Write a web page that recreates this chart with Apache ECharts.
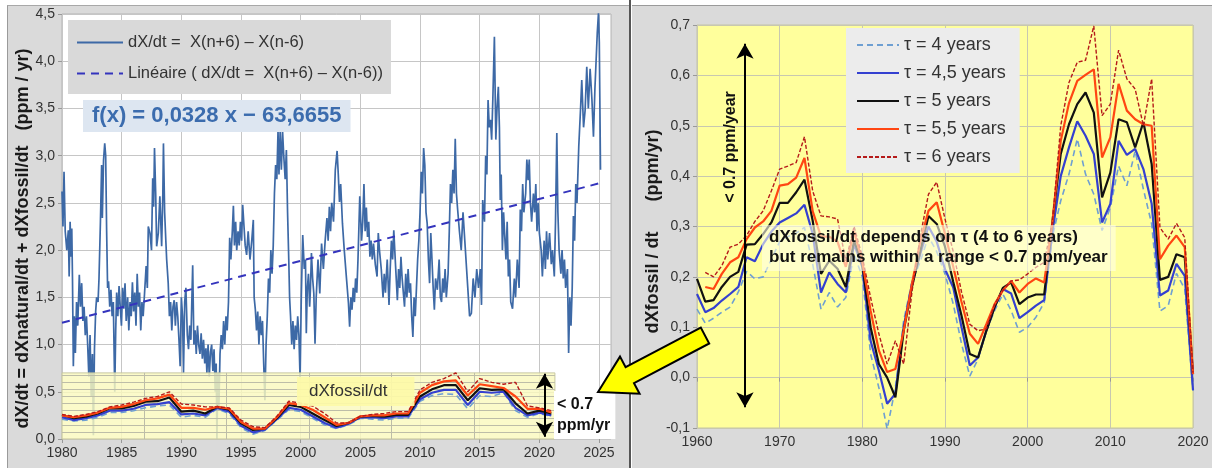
<!DOCTYPE html>
<html><head><meta charset="utf-8">
<script src="https://cdn.jsdelivr.net/npm/echarts@6/dist/echarts.min.js"></script>
<style>
html,body{margin:0;padding:0;background:#fff;}
#wrap{position:relative;width:1212px;height:468px;overflow:hidden;}
.panel{position:absolute;background:#dadada;}
#chart{position:absolute;left:0;top:0;width:1212px;height:468px;}
</style></head><body>
<div id="wrap">
<div class="panel" style="left:7px;top:5px;width:621px;height:463px;border-left:1px solid #9a9a9a;border-top:1px solid #a8a8a8;"></div>
<div style="position:absolute;left:629px;top:0;width:2px;height:468px;background:#555;"></div>
<div class="panel" style="left:632px;top:5px;width:580px;height:463px;border-top:1px solid #9a9a9a;"></div>
<div id="chart"></div>
</div>
<script>
// ---------- DATA ----------
const blueName = 'dX/dt =  X(n+6) – X(n-6)';
const trendName = 'Linéaire ( dX/dt =  X(n+6) – X(n-6))';
const fitText = 'f(x) = 0,0328 x − 63,6655';
const tauNames = ['τ = 4 years', 'τ = 4,5 years', 'τ = 5 years', 'τ = 5,5 years', 'τ = 6 years'];

// monthly-ish dX/dt (ppm/yr) : [year, value]
const dxdtPoints = [
[1980.0,2.62],[1980.08,2.25],[1980.17,2.83],[1980.27,2.2],[1980.4,2.0],[1980.53,2.21],[1980.6,1.72],[1980.68,2.3],[1980.76,1.93],[1980.82,2.23],[1980.88,1.68],[1980.95,0.77],[1981.03,1.3],[1981.12,0.91],[1981.22,1.45],[1981.32,1.2],[1981.45,1.74],[1981.55,1.4],[1981.65,1.65],[1981.75,1.25],[1981.85,1.4],[1981.95,1.1],
[1982.05,1.3],[1982.15,1.0],[1982.25,0.66],[1982.35,1.1],[1982.45,0.45],[1982.55,0.9],[1982.63,0.04],[1982.72,0.95],[1982.82,1.35],[1982.9,1.5],[1983.02,1.45],[1983.1,1.7],[1983.22,2.3],[1983.32,2.9],[1983.38,2.34],[1983.48,2.95],[1983.58,3.13],[1983.66,3.0],[1983.74,2.2],[1983.82,1.6],[1983.9,1.67],[1984.0,1.4],[1984.1,1.58],[1984.2,1.3],[1984.3,1.45],[1984.42,0.5],[1984.5,1.15],[1984.58,1.55],[1984.68,1.3],[1984.78,1.62],[1984.88,1.4],[1984.98,1.2],
[1985.08,1.6],[1985.18,1.38],[1985.28,1.65],[1985.38,1.25],[1985.5,1.5],[1985.6,1.15],[1985.7,1.45],[1985.8,1.3],[1985.9,1.66],[1986.0,1.35],[1986.1,1.55],[1986.2,1.2],[1986.3,1.75],[1986.4,1.4],[1986.5,1.55],[1986.6,1.15],[1986.7,1.45],[1986.8,1.3],[1986.92,1.55],
[1987.05,1.83],[1987.15,1.6],[1987.23,2.25],[1987.37,2.18],[1987.5,2.0],[1987.6,2.76],[1987.68,2.46],[1987.75,3.08],[1987.85,2.6],[1987.93,2.04],[1988.07,2.18],[1988.2,2.57],[1988.35,2.04],[1988.45,2.6],[1988.5,3.13],[1988.6,2.4],[1988.7,2.1],[1988.77,1.9],[1988.9,1.65],[1989.0,1.3],[1989.1,1.45],[1989.2,1.15],[1989.3,1.4],[1989.4,1.47],[1989.5,1.2],[1989.6,1.45],[1989.7,1.3],[1989.8,1.05],[1989.9,0.77],
[1990.0,1.5],[1990.1,1.3],[1990.18,0.7],[1990.28,1.45],[1990.38,1.6],[1990.5,1.1],[1990.6,0.95],[1990.7,1.2],[1990.8,1.05],[1990.95,1.84],[1991.05,1.0],[1991.15,1.15],[1991.25,0.9],[1991.35,1.2],[1991.45,1.0],[1991.56,0.9],[1991.66,1.12],[1991.76,0.85],[1991.86,1.05],[1991.96,0.8],
[1992.06,0.96],[1992.14,0.7],[1992.24,1.0],[1992.34,0.66],[1992.44,0.92],[1992.54,1.0],[1992.64,0.72],[1992.74,0.95],[1992.84,0.5],[1992.92,0.8],[1992.98,0.0],[1993.06,0.7],[1993.14,0.3],[1993.24,0.9],[1993.34,1.1],[1993.44,0.95],[1993.54,1.25],[1993.64,1.0],[1993.74,1.3],[1993.84,1.15],[1993.95,1.45],
[1994.05,2.13],[1994.15,1.9],[1994.27,2.2],[1994.36,2.47],[1994.45,2.05],[1994.55,2.3],[1994.64,2.0],[1994.75,2.2],[1994.85,2.05],[1994.95,2.3],[1995.05,2.1],[1995.14,2.48],[1995.25,2.25],[1995.35,2.05],[1995.47,1.95],[1995.6,2.2],[1995.75,1.9],[1995.9,2.1],[1996.03,2.32],[1996.1,1.5],[1996.2,1.37],[1996.3,1.15],[1996.4,1.35],[1996.5,1.0],[1996.6,1.3],[1996.7,1.1],[1996.8,1.25],[1996.9,0.8],[1997.0,0.41],[1997.1,1.0],[1997.2,1.3],[1997.3,1.7],[1997.4,1.55],[1997.5,2.0],[1997.6,1.75],[1997.7,2.05],[1997.8,2.6],[1997.9,2.9],[1998.0,2.75],[1998.1,3.26],[1998.18,2.8],[1998.28,3.26],[1998.38,2.85],[1998.48,3.26],[1998.58,3.0],[1998.7,2.75],[1998.8,3.06],[1998.9,2.4],[1999.0,1.9],[1999.07,1.5],[1999.15,1.3],[1999.25,1.0],[1999.35,1.25],[1999.45,0.95],[1999.55,1.2],[1999.65,1.05],[1999.75,1.3],[1999.85,1.1],[1999.95,0.63],
[2000.05,1.5],[2000.17,2.16],[2000.3,1.8],[2000.4,1.9],[2000.47,1.12],[2000.55,1.58],[2000.65,1.75],[2000.75,1.4],[2000.82,1.6],[2000.9,1.97],[2001.0,1.7],[2001.1,1.54],[2001.2,1.01],[2001.3,1.5],[2001.45,1.9],[2001.6,1.54],[2001.75,2.07],[2001.9,1.8],[2002.05,2.1],[2002.2,2.34],[2002.3,2.1],[2002.4,2.46],[2002.5,2.2],[2002.6,2.5],[2002.75,2.3],[2002.9,2.85],[2003.05,3.05],[2003.15,2.8],[2003.25,2.51],[2003.35,2.7],[2003.5,2.28],[2003.65,2.0],[2003.85,1.68],[2004.0,1.44],[2004.1,1.19],[2004.2,1.5],[2004.3,1.37],[2004.4,1.6],[2004.5,1.45],[2004.6,1.7],[2004.7,1.55],[2004.8,1.9],[2004.95,2.57],
[2005.1,2.1],[2005.2,2.3],[2005.3,2.7],[2005.4,2.2],[2005.5,2.45],[2005.6,2.14],[2005.7,2.3],[2005.8,1.93],[2005.9,2.1],[2006.0,1.9],[2006.1,2.07],[2006.25,1.85],[2006.4,1.72],[2006.5,2.18],[2006.6,2.0],[2006.75,1.8],[2006.9,1.5],[2007.0,1.75],[2007.1,1.55],[2007.25,1.9],[2007.4,1.42],[2007.5,1.8],[2007.6,2.1],[2007.7,1.9],[2007.8,2.21],[2007.95,1.83],[2008.1,1.47],[2008.2,1.8],[2008.3,1.6],[2008.4,1.93],[2008.5,1.7],[2008.6,1.55],[2008.7,1.4],[2008.8,1.75],[2008.9,1.5],[2009.0,1.8],[2009.1,1.55],[2009.2,1.65],[2009.3,1.3],[2009.4,1.08],[2009.5,1.5],[2009.6,1.3],[2009.7,1.6],[2009.8,1.9],[2009.9,2.1],
[2010.0,2.4],[2010.1,2.83],[2010.2,2.6],[2010.3,3.08],[2010.4,2.9],[2010.5,2.4],[2010.6,2.28],[2010.7,1.9],[2010.8,1.65],[2010.9,2.18],[2011.0,1.9],[2011.1,1.6],[2011.2,1.37],[2011.3,1.7],[2011.45,1.58],[2011.6,1.9],[2011.7,1.5],[2011.8,1.45],[2011.9,1.7],[2012.0,1.55],[2012.1,1.8],[2012.2,1.5],[2012.35,1.75],[2012.45,2.2],[2012.55,2.7],[2012.65,2.5],[2012.75,2.85],[2012.85,2.6],[2012.95,3.18],[2013.05,2.6],[2013.15,2.43],[2013.3,2.2],[2013.45,2.0],[2013.6,2.4],[2013.75,2.1],[2013.9,1.8],[2014.0,1.6],[2014.15,1.3],[2014.3,1.33],[2014.45,1.7],[2014.6,1.5],[2014.75,1.8],[2014.9,1.6],
[2015.05,1.8],[2015.15,1.42],[2015.25,2.53],[2015.4,2.3],[2015.5,3.0],[2015.6,2.8],[2015.7,3.59],[2015.8,3.3],[2015.9,3.38],[2016.0,3.17],[2016.1,3.6],[2016.23,4.26],[2016.35,3.17],[2016.45,3.5],[2016.56,3.73],[2016.65,3.3],[2016.72,2.53],[2016.8,2.8],[2016.9,2.0],[2017.0,2.4],[2017.1,2.14],[2017.2,1.9],[2017.3,2.3],[2017.4,1.72],[2017.5,1.9],[2017.6,1.45],[2017.75,1.38],[2017.9,1.7],[2018.0,1.5],[2018.15,1.9],[2018.3,1.6],[2018.4,2.43],[2018.5,2.2],[2018.6,2.7],[2018.7,2.4],[2018.85,2.6],[2018.95,2.96],[2019.05,2.74],[2019.15,2.96],[2019.25,2.5],[2019.35,2.3],[2019.5,2.6],[2019.6,2.4],[2019.7,2.7],[2019.8,2.2],[2019.9,2.5],
[2020.0,2.18],[2020.15,2.0],[2020.25,1.72],[2020.4,2.1],[2020.5,1.8],[2020.6,2.2],[2020.7,1.9],[2020.85,2.18],[2021.0,1.85],[2021.1,2.0],[2021.25,1.72],[2021.35,2.3],[2021.46,3.24],[2021.55,2.4],[2021.65,2.0],[2021.8,1.75],[2021.9,2.0],[2022.0,1.7],[2022.1,1.9],[2022.2,1.6],[2022.35,1.8],[2022.45,0.91],[2022.55,1.5],[2022.65,1.2],[2022.75,1.6],[2022.85,2.36],[2022.95,2.1],[2023.05,2.7],[2023.15,2.5],[2023.3,3.1],[2023.45,3.5],[2023.55,3.8],[2023.7,3.3],[2023.83,3.48],[2023.97,3.94],[2024.1,3.5],[2024.25,3.92],[2024.4,3.6],[2024.53,3.2],[2024.65,3.7],[2024.75,4.0],[2024.85,4.3],[2024.95,4.51],[2025.02,4.2],[2025.12,2.85]
];
// linear trend end points
const trendPoints = [[1980, 1.23], [2025.1, 2.71]];

// right chart: annual dXfossil/dt (ppm/yr) for each tau
const years = [1960,1961,1962,1963,1964,1965,1966,1967,1968,1969,1970,1971,1972,1973,1974,1975,1976,1977,1978,1979,1980,1981,1982,1983,1984,1985,1986,1987,1988,1989,1990,1991,1992,1993,1994,1995,1996,1997,1998,1999,2000,2001,2002,2003,2004,2005,2006,2007,2008,2009,2010,2011,2012,2013,2014,2015,2016,2017,2018,2019,2020];
const tau4  = [0.136,0.108,0.118,0.13,0.14,0.17,0.211,0.196,0.2,0.235,0.27,0.28,0.287,0.298,0.225,0.136,0.169,0.14,0.159,0.245,0.2,0.047,-0.02,-0.102,-0.02,0.113,0.19,0.23,0.28,0.25,0.206,0.146,0.067,0.003,0.037,0.093,0.133,0.166,0.133,0.09,0.1,0.12,0.149,0.28,0.351,0.404,0.474,0.404,0.364,0.292,0.338,0.42,0.381,0.45,0.374,0.305,0.132,0.143,0.207,0.176,-0.026];
const tau45 = [0.166,0.13,0.138,0.153,0.166,0.18,0.239,0.231,0.265,0.29,0.308,0.317,0.326,0.343,0.285,0.169,0.209,0.186,0.169,0.265,0.22,0.073,0.014,-0.052,-0.032,0.1,0.186,0.245,0.3,0.27,0.215,0.179,0.1,0.024,0.04,0.093,0.14,0.176,0.167,0.118,0.13,0.143,0.154,0.29,0.4,0.457,0.509,0.48,0.444,0.308,0.345,0.47,0.442,0.454,0.414,0.345,0.163,0.173,0.226,0.202,-0.025];
const tau5  = [0.196,0.151,0.154,0.18,0.2,0.21,0.264,0.265,0.285,0.308,0.347,0.347,0.368,0.393,0.311,0.206,0.232,0.216,0.18,0.272,0.225,0.1,0.027,0.0,-0.039,0.093,0.18,0.25,0.321,0.305,0.26,0.19,0.123,0.047,0.04,0.093,0.14,0.178,0.189,0.146,0.159,0.165,0.165,0.31,0.444,0.503,0.543,0.566,0.526,0.358,0.407,0.513,0.507,0.457,0.507,0.424,0.194,0.2,0.245,0.239,0.007];
const tau55 = [null,0.18,0.176,0.206,0.229,0.239,0.275,0.298,0.31,0.331,0.381,0.384,0.397,0.436,0.33,0.28,0.28,0.27,0.22,0.29,0.23,0.133,0.054,0.011,0.017,0.093,0.186,0.27,0.331,0.348,0.285,0.22,0.15,0.087,0.067,0.106,0.146,0.173,0.192,0.169,0.186,0.197,0.189,0.31,0.47,0.545,0.589,0.601,0.612,0.437,0.477,0.583,0.53,0.513,0.503,0.5,0.235,0.262,0.282,0.259,0.007];
const tau6  = [null,0.209,0.2,0.222,0.259,0.265,0.282,0.31,0.331,0.371,0.414,0.42,0.427,0.478,0.37,0.321,0.319,0.315,0.232,0.3,0.24,0.159,0.087,0.027,0.073,0.027,0.17,0.28,0.364,0.388,0.315,0.25,0.17,0.106,0.093,0.097,0.146,0.173,0.192,0.194,0.206,0.219,0.229,0.31,0.5,0.586,0.626,0.63,0.698,0.52,0.543,0.65,0.593,0.573,0.5,0.593,0.298,0.275,0.306,0.278,0.01];

// left inset: dXfossil/dt drawn on the left axes (ppm/yr)
const insetYears = [1980,1981,1982,1983,1984,1985,1986,1987,1988,1989,1990,1991,1992,1993,1994,1995,1996,1997,1998,1999,2000,2001,2002,2003,2004,2005,2006,2007,2008,2009,2010,2011,2012,2013,2014,2015,2016,2017,2018,2019,2020,2021];
const insetTau4  = [0.21,0.19,0.2,0.23,0.28,0.28,0.3,0.33,0.35,0.36,0.23,0.25,0.23,0.32,0.27,0.12,0.05,0.09,0.2,0.31,0.29,0.22,0.15,0.11,0.15,0.22,0.21,0.2,0.22,0.22,0.4,0.46,0.48,0.47,0.32,0.46,0.45,0.49,0.3,0.23,0.27,0.24];
const insetTau45 = [0.23,0.2,0.22,0.25,0.3,0.3,0.32,0.36,0.37,0.39,0.26,0.27,0.25,0.33,0.29,0.14,0.07,0.1,0.21,0.33,0.31,0.24,0.17,0.12,0.16,0.23,0.23,0.22,0.24,0.24,0.42,0.49,0.52,0.52,0.36,0.5,0.49,0.5,0.33,0.25,0.28,0.25];
const insetTau5  = [0.254,0.22,0.237,0.27,0.325,0.325,0.35,0.395,0.4,0.44,0.29,0.3,0.27,0.34,0.31,0.166,0.095,0.11,0.22,0.36,0.34,0.27,0.2,0.138,0.17,0.237,0.244,0.237,0.254,0.254,0.45,0.526,0.57,0.57,0.41,0.537,0.52,0.526,0.378,0.27,0.3,0.27];
const insetTau55 = [0.25,0.23,0.25,0.28,0.33,0.34,0.37,0.41,0.43,0.47,0.33,0.33,0.31,0.34,0.32,0.18,0.11,0.11,0.23,0.38,0.36,0.31,0.23,0.15,0.17,0.24,0.25,0.25,0.27,0.27,0.49,0.57,0.61,0.62,0.46,0.58,0.56,0.54,0.45,0.32,0.32,0.28];
const insetTau6  = [0.26,0.24,0.26,0.29,0.34,0.36,0.39,0.43,0.45,0.5,0.37,0.36,0.34,0.34,0.33,0.2,0.13,0.12,0.24,0.4,0.38,0.35,0.27,0.17,0.17,0.24,0.26,0.27,0.29,0.29,0.52,0.6,0.64,0.7,0.5,0.64,0.6,0.58,0.6,0.35,0.33,0.3];

// ---------- LAYOUT / STYLE ----------
const FONT = '"Liberation Sans", Arial, sans-serif';
const tauStyles = [
  {color:'#6e9fd2', width:1.6, type:[6,4]},
  {color:'#3440d0', width:2.2, type:'solid'},
  {color:'#111111', width:2.2, type:'solid'},
  {color:'#ff4612', width:2.2, type:'solid'},
  {color:'#b51a1a', width:1.4, type:[4,2]}
];
const insetExtent = {x0:1980, x1:2021.3, y0:0, y1:0.7};
const insetGridLevels = [0.075,0.15,0.225,0.3,0.375,0.45,0.525,0.6,0.675];
const insetGridX = [1986.9,1993.8,2000.7,2007.6,2014.5];
const insetArrowX = 2020.43, insetArrowY = [0.025, 0.69];
const rightArrowX = 1965.8, rightArrowY = [-0.059, 0.663];
const commaFmt = v => v.toFixed(1).replace('.', ',').replace('-0,0','0,0');

const insetArrays = [insetTau4, insetTau45, insetTau5, insetTau55, insetTau6];
const tauArrays = [tau4, tau45, tau5, tau55, tau6];

const series = [];
series.push({
  name: blueName, type:'line', xAxisIndex:0, yAxisIndex:0, data: dxdtPoints,
  symbol:'none', showSymbol:false, z:2,
  itemStyle:{color:'#3d69a6'},
  lineStyle:{color:'#3d69a6', width:1.7}
});
series.push({
  name: trendName, type:'line', xAxisIndex:0, yAxisIndex:0, data: trendPoints,
  symbol:'none', showSymbol:false, z:2,
  itemStyle:{color:'#3434bd'},
  lineStyle:{color:'#3434bd', width:2, type:[8,6]}
});
// right chart series
tauArrays.forEach((arr, i) => {
  series.push({
    name: tauNames[i], type:'line', xAxisIndex:1, yAxisIndex:1,
    data: years.map((y, k) => [y, arr[k]]),
    symbol:'none', showSymbol:false, connectNulls:false, z:2 + i*0.1,
    itemStyle:{color:tauStyles[i].color},
    lineStyle: tauStyles[i]
  });
});
// inset background holder (yellow overlay + its own grid lines)
series.push({
  name:'inset', type:'line', xAxisIndex:0, yAxisIndex:0, data:[], silent:true,
  markArea:{ silent:true, z:3, itemStyle:{color:'rgba(250,249,190,0.82)', borderColor:'#c8c8a0', borderWidth:1},
    data:[[{coord:[insetExtent.x0, insetExtent.y0]},{coord:[insetExtent.x1, insetExtent.y1]}]] },
  markLine:{ silent:true, z:3.5, symbol:'none', label:{show:false},
    lineStyle:{color:'#bdbda8', width:1, type:'solid'},
    data: insetGridLevels.map(v => [{coord:[insetExtent.x0, v]},{coord:[insetExtent.x1, v]}])
      .concat(insetGridX.map(x => [{coord:[x, insetExtent.y0]},{coord:[x, insetExtent.y1]}])) }
});
insetArrays.forEach((arr, i) => {
  series.push({
    name: tauNames[i], type:'line', xAxisIndex:0, yAxisIndex:0,
    data: insetYears.map((y, k) => [y, arr[k]]),
    symbol:'none', showSymbol:false, z:4 + i*0.1,
    itemStyle:{color:tauStyles[i].color},
    lineStyle: tauStyles[i]
  });
});
// arrows
series.push({
  name:'arrows-left', type:'line', xAxisIndex:0, yAxisIndex:0, data:[], silent:true,
  markLine:{ silent:true, z:6, symbol:['arrow','arrow'], symbolSize:[13,15], label:{show:false},
    lineStyle:{color:'#000', width:2, type:'solid'},
    data:[[{coord:[insetArrowX, insetArrowY[0]]},{coord:[insetArrowX, insetArrowY[1]]}]] }
});
series.push({
  name:'arrows-right', type:'line', xAxisIndex:1, yAxisIndex:1, data:[], silent:true,
  markLine:{ silent:true, z:6, symbol:['arrow','arrow'], symbolSize:[13,15], label:{show:false},
    lineStyle:{color:'#000', width:2, type:'solid'},
    data:[[{coord:[rightArrowX, rightArrowY[0]]},{coord:[rightArrowX, rightArrowY[1]]}]] }
});

const axisLabelStyle = {color:'#333', fontSize:14, fontFamily:FONT};
const option = {
  animation:false,
  backgroundColor:'transparent',
  textStyle:{fontFamily:FONT},
  grid:[
    {left:62, top:14, width:549, height:425, show:true, backgroundColor:'#ffffff', borderColor:'#b4b4b4', borderWidth:1, containLabel:false, outerBoundsMode:'none'},
    {left:697, top:25, width:496, height:403, show:true, backgroundColor:'#ffff9c', borderColor:'#c4c4a4', borderWidth:1, containLabel:false, outerBoundsMode:'none'}
  ],
  xAxis:[
    {type:'value', gridIndex:0, min:1980, max:2026, interval:5,
      axisLine:{show:false}, axisTick:{show:true, length:4, lineStyle:{color:'#999'}},
      axisLabel:Object.assign({margin:7, showMaxLabel:false, formatter: v => String(v)}, axisLabelStyle),
      splitLine:{show:true, lineStyle:{color:'#c6c6c6', width:1}}},
    {type:'value', gridIndex:1, min:1960, max:2020, interval:10,
      axisLine:{show:false}, axisTick:{show:true, length:4, lineStyle:{color:'#999'}},
      axisLabel:Object.assign({margin:7, formatter: v => String(v)}, axisLabelStyle),
      splitLine:{show:true, lineStyle:{color:'#c8c8b0', width:1}}}
  ],
  yAxis:[
    {type:'value', gridIndex:0, min:0, max:4.5, interval:0.5,
      name:'dX/dt = dXnatural/dt + dXfossil/dt   (ppm / yr)', nameLocation:'middle', nameGap:30, nameRotate:90,
      nameTextStyle:{fontSize:18, fontWeight:'bold', color:'#1a1a1a', fontFamily:FONT, padding:[0,24,0,0]},
      axisLine:{show:false}, axisTick:{show:true, length:4, lineStyle:{color:'#999'}},
      axisLabel:Object.assign({margin:7, formatter: commaFmt}, axisLabelStyle),
      splitLine:{show:true, lineStyle:{color:'#c6c6c6', width:1}}},
    {type:'value', gridIndex:1, min:-0.1, max:0.7, interval:0.1,
      name:'dXfossil / dt      (ppm/yr)', nameLocation:'middle', nameGap:29, nameRotate:90,
      nameTextStyle:{fontSize:18, fontWeight:'bold', color:'#1a1a1a', fontFamily:FONT, padding:[0,10,0,0]},
      axisLine:{show:false}, axisTick:{show:true, length:4, lineStyle:{color:'#999'}},
      axisLabel:Object.assign({margin:7, formatter: commaFmt}, axisLabelStyle),
      splitLine:{show:true, lineStyle:{color:'#c8c8b0', width:1}}}
  ],
  legend:[
    {data:[blueName, trendName], orient:'vertical', left:68, top:20,
      backgroundColor:'#d9d9d9', padding:[14,8,12,8], itemGap:14, itemWidth:46, itemHeight:14,
      itemStyle:{opacity:0},
      textStyle:{fontSize:16.5, color:'#333', fontFamily:FONT}, selectedMode:false},
    {data:tauNames, orient:'vertical', left:846, top:28,
      backgroundColor:'#ececec', padding:[8,14,7,10], itemGap:10, itemWidth:42, itemHeight:14,
      itemStyle:{opacity:0},
      textStyle:{fontSize:18, color:'#333', fontFamily:FONT}, selectedMode:false}
  ],
  title:[
    {text:fitText, left:83, top:100, padding:[5,9,5,9], backgroundColor:'#dde6f1',
      textStyle:{fontSize:22, fontWeight:'bold', color:'#3b6cae', fontFamily:FONT}},
    {text:'dXfossil/dt', left:297, top:377, padding:[6,27,6,12], backgroundColor:'rgba(253,250,168,0.92)',
      textStyle:{fontSize:17, fontWeight:'normal', color:'#333', fontFamily:FONT}},
    {text:'< 0.7\nppm/yr', left:554, top:391, padding:[3,5,3,3], backgroundColor:'#ffffff',
      textStyle:{fontSize:16, fontWeight:'bold', color:'#111', lineHeight:21, fontFamily:FONT}},
    {text:'dXfossil/dt depends on τ (4 to 6 years)\nbut remains within a range < 0.7 ppm/year', left:762, top:225,
      padding:[2,8,4,7], backgroundColor:'rgba(255,255,232,0.6)',
      textStyle:{fontSize:17, fontWeight:'bold', color:'#111', lineHeight:20, fontFamily:FONT}}
  ],
  graphic:[
    {type:'text', x:731, y:147, rotation:Math.PI/2, z:100,
      style:{text:'< 0.7 ppm/year', x:0, y:0, align:'center', verticalAlign:'middle',
        font:'bold 16px ' + FONT, fill:'#111'}},
    {type:'polygon', z:100,
      shape:{points:[[598,392],[639.6,393.8],[634,383.2],[709.2,343.5],[700.8,327.5],[625.6,367.2],[620,356.6]]},
      style:{fill:'#ffff00', stroke:'#000', lineWidth:2, lineJoin:'miter'}}
  ],
  series: series
};
const chart = echarts.init(document.getElementById('chart'), null, {renderer:'canvas'});
chart.setOption(option);
</script>
</body></html>
